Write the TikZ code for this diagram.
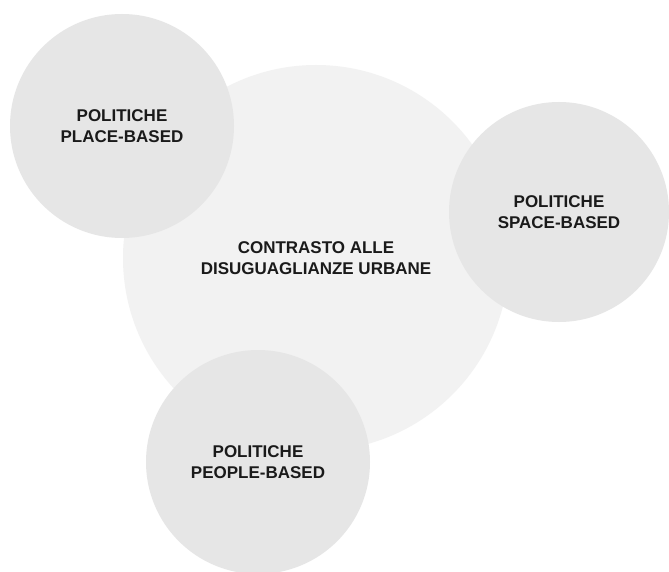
\documentclass[tikz,border=0pt]{standalone}
\usepackage{fontspec}
\setmainfont{Liberation Sans}
\definecolor{bigfill}{HTML}{F2F2F2}
\definecolor{smallfill}{HTML}{E6E6E6}
\definecolor{txt}{HTML}{1A1A1A}
\begin{document}
\begin{tikzpicture}[x=1pt,y=-1pt,
  bubble/.style={circle,inner sep=0pt,draw=none,align=center,text=txt,
    font=\fontsize{17}{21.5}\selectfont\bfseries}]
\useasboundingbox[fill=white] (0,0) rectangle (669,572);
\node[bubble,fill=bigfill,minimum size=386pt] (core) at (316,258) {CONTRASTO ALLE\\DISUGUAGLIANZE URBANE};
\node[bubble,fill=smallfill,minimum size=224pt] (place) at (122,126) {POLITICHE\\PLACE-BASED};
\node[bubble,fill=smallfill,minimum size=220pt] (space) at (559,212) {POLITICHE\\SPACE-BASED};
\node[bubble,fill=smallfill,minimum size=224pt] (people) at (258,462) {POLITICHE\\PEOPLE-BASED};
\end{tikzpicture}
\end{document}
